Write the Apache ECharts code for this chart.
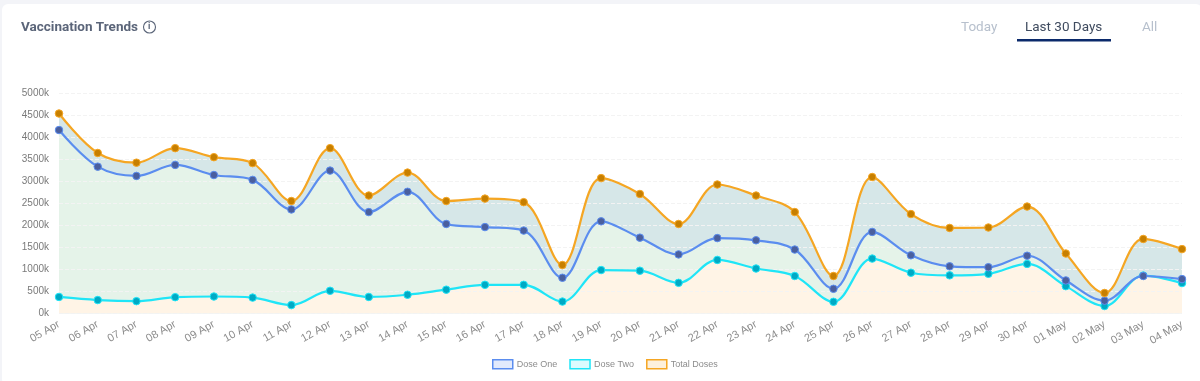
<!DOCTYPE html>
<html><head><meta charset="utf-8">
<style>html,body{margin:0;padding:0;background:#f3f4f8}#c{width:1200px;height:381px}</style>
<script src="https://cdn.jsdelivr.net/npm/echarts@6/dist/echarts.min.js"></script>
</head><body><div id="c"></div>
<script>
const categories = ['05 Apr','06 Apr','07 Apr','08 Apr','09 Apr','10 Apr','11 Apr','12 Apr','13 Apr','14 Apr','15 Apr','16 Apr','17 Apr','18 Apr','19 Apr','20 Apr','21 Apr','22 Apr','23 Apr','24 Apr','25 Apr','26 Apr','27 Apr','28 Apr','29 Apr','30 Apr','01 May','02 May','03 May','04 May'];
const totalDoses = [4535,3640,3420,3750,3545,3410,2550,3750,2675,3195,2550,2605,2525,1100,3070,2710,2030,2925,2675,2300,850,3095,2255,1940,1950,2425,1360,465,1690,1460];
const doseOne = [4160,3330,3120,3370,3140,3030,2360,3240,2300,2760,2030,1960,1880,810,2090,1720,1340,1710,1660,1450,560,1850,1320,1070,1050,1310,750,290,850,780];
const doseTwo = [375,305,280,370,385,360,190,515,375,425,540,650,650,270,985,970,695,1215,1020,850,265,1245,925,865,900,1125,620,170,860,690];
const chart = echarts.init(document.getElementById('c'), null, {renderer:'canvas'});
const font = 'Roboto, sans-serif';
const curve = 0.35;
const fill = (data, color, z) => ({type:'line', data, smooth:curve, symbol:'none', lineStyle:{width:0}, areaStyle:{color, opacity:1}, z, silent:true, animation:false, legendHoverLink:false});
const line = (name, data, color, dot, z) => ({name, type:'line', data, smooth:curve, symbol:'circle', symbolSize:7.5, showSymbol:true,
  lineStyle:{color, width:2.2}, itemStyle:{color:dot, borderColor:color, borderWidth:1, opacity:1}, z, animation:false});
chart.setOption({
  animation:false,
  backgroundColor:'#f3f4f8',
  grid:{left:59, right:18, top:93, bottom:67.5, containLabel:false},
  xAxis:{type:'category', boundaryGap:false, data:categories, z:3,
    axisLine:{show:false}, axisTick:{show:false},
    splitLine:{show:false},
    axisLabel:{rotate:30, interval:0, color:'#8c8c8c', fontFamily:'Liberation Sans, sans-serif', fontSize:11, margin:10}},
  yAxis:{type:'value', min:0, max:5000, interval:500, z:3,
    axisLine:{show:false}, axisTick:{show:false},
    splitLine:{lineStyle:{color:'#f3f3f3', type:'dashed', width:1}},
    axisLabel:{formatter:v=>v+'k', color:'#7a7a7a', fontFamily:'Liberation Sans, sans-serif', fontSize:10, margin:10}},
  legend:{left:487, top:354, itemWidth:20, itemHeight:9, itemGap:12, icon:'rect',
    textStyle:{color:'#8c8c8c', fontFamily:'Liberation Sans, sans-serif', fontSize:9, padding:[0,0,0,-1]},
    data:[
      {name:'Dose One', itemStyle:{color:'#e2eafc', borderColor:'#5b8def', borderWidth:1.5}},
      {name:'Dose Two', itemStyle:{color:'#dcfbfe', borderColor:'#1fe5f7', borderWidth:1.5}},
      {name:'Total Doses', itemStyle:{color:'#fdf0dc', borderColor:'#f5a623', borderWidth:1.5}}
    ]},
  series:[
    fill(totalDoses,'#d6e7e8',1),
    fill(doseOne,'#e5f3e9',1.1),
    fill(doseTwo,'#fff4e6',1.2),
    line('Total Doses', totalDoses, '#f5a623', '#c77f00', 6),
    line('Dose One', doseOne, '#5b8def', '#4a5f9e', 5),
    line('Dose Two', doseTwo, '#1fe5f7', '#00a9c4', 4)
  ],
  graphic:[
    {type:'rect', z:-10, silent:true, shape:{x:2,y:4,width:1200,height:381,r:6}, style:{fill:'#fff'}},
    {type:'text', x:21, y:21, style:{text:'Vaccination Trends', fill:'#5b6579', font:'bold 13.5px '+font}},
    {type:'circle', shape:{cx:149.5,cy:27,r:6}, style:{fill:'none', stroke:'#5b6579', lineWidth:1.1}},
    {type:'text', x:148, y:22, style:{text:'i', fill:'#5b6579', font:'bold 9px '+font}},
    {type:'text', x:961, y:21, style:{text:'Today', fill:'#b7c0cd', font:'13.5px '+font}},
    {type:'text', x:1025, y:21, style:{text:'Last 30 Days', fill:'#3f4b5f', font:'13.5px '+font}},
    {type:'text', x:1142, y:21, style:{text:'All', fill:'#b7c0cd', font:'13.5px '+font}},
    {type:'rect', shape:{x:1017,y:39,width:94,height:2.5}, style:{fill:'#0b2a6b'}}
  ]
});
</script></body></html>
